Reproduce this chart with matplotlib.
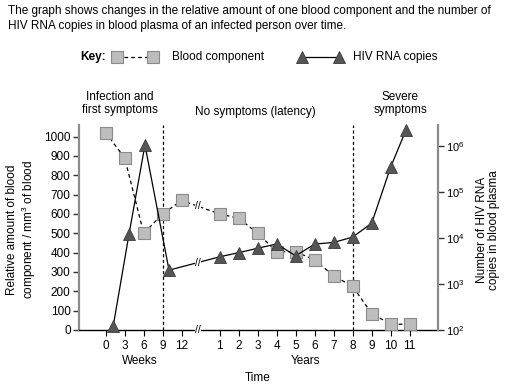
import numpy as np
import matplotlib
matplotlib.use("Agg")
import matplotlib.pyplot as plt

plt.rcParams['font.family'] = ['Liberation Sans', 'DejaVu Sans']
plt.rcParams['mathtext.fontset'] = 'custom'
plt.rcParams['mathtext.rm'] = 'Liberation Sans'
plt.rcParams['mathtext.it'] = 'Liberation Sans'

# ---- data ----
week_ticks = [0, 3, 6, 9, 12]
year_ticks = [1, 2, 3, 4, 5, 6, 7, 8, 9, 10, 11]

blood_weeks_x = [0, 3, 6, 9, 12]
blood_weeks = [1020, 890, 500, 600, 670]
blood_years_x = [1, 2, 3, 4, 5, 6, 7, 8, 9, 10, 11]
blood_years = [600, 578, 500, 405, 405, 362, 280, 225, 85, 30, 30]

hiv_weeks_x = [1.2, 3.7, 6.2, 10]
hiv_weeks = [125, 12500, 1050000, 2000]
hiv_years_x = [1, 2, 3, 4, 5, 6, 7, 8, 9, 10, 10.8]
hiv_years = [3900, 4800, 6000, 7400, 4100, 7400, 8000, 10500, 21000, 350000, 2200000]

phase_week = 9
phase_year = 8


def wpos(w):
    return np.asarray(w, dtype=float) / 3.0


def ypos(y):
    return np.asarray(y, dtype=float) + 5.0


BREAK = 4.86
FS = 8.5

W, H = 512, 391
fig = plt.figure(figsize=(W / 100, H / 100), dpi=100)
ax = fig.add_axes([79 / W, 1 - 330 / H, (438 - 79) / W, (330 - 125) / H])
ax2 = ax.twinx()

ax.set_xlim(-1.405, 17.49)
ax.set_ylim(0, 1060)
ax2.set_ylim(1e2, 10 ** 6.457)
ax2.set_yscale('log')

# blood component
bx = np.concatenate([wpos(blood_weeks_x), ypos(blood_years_x)])
by = np.concatenate([blood_weeks, blood_years])
ax.plot(bx, by, color='black', lw=0.9, ls=(0, (3, 2.5)), zorder=2)
ax.plot(bx, by, ls='none', marker='s', ms=8.5, mfc='#bdbdbd', mec='#8a8a8a',
        mew=0.8, zorder=4, clip_on=False)

# HIV RNA
hx = np.concatenate([wpos(hiv_weeks_x), ypos(hiv_years_x)])
hy = np.concatenate([hiv_weeks, hiv_years])
ax2.plot(hx, hy, color='black', lw=0.9, zorder=2)
ax2.plot(hx, hy, ls='none', marker='^', ms=9, mfc='#555555', mec='#3a3a3a',
         mew=0.6, zorder=4, clip_on=False)

# break marks on lines and axis
yb = np.interp(BREAK, bx, by)
ax.text(BREAK, yb, '//', ha='center', va='center', fontsize=7.5, zorder=3,
        bbox=dict(fc='white', ec='none', pad=0.2))
hb = 10 ** np.interp(BREAK, hx, np.log10(hy))
ax2.text(BREAK, hb, '//', ha='center', va='center', fontsize=7.5, zorder=3,
         bbox=dict(fc='white', ec='none', pad=0.2))
ax.text(BREAK, 0, '//', ha='center', va='center', fontsize=7.5, zorder=5,
        clip_on=False, bbox=dict(fc='white', ec='none', pad=0.2))

# phase lines
for p in [wpos(phase_week), ypos(phase_year)]:
    ax.axvline(p, color='black', lw=0.9, ls=(0, (2.5, 2)), zorder=1)

# axes styling
for s in ['top']:
    ax.spines[s].set_visible(False)
    ax2.spines[s].set_visible(False)
ax2.spines['left'].set_visible(False)
ax2.spines['bottom'].set_visible(False)
ax.spines['right'].set_visible(False)
ax.spines['left'].set_color('#8c8c8c')
ax.spines['left'].set_linewidth(1.6)
ax2.spines['right'].set_color('#8c8c8c')
ax2.spines['right'].set_linewidth(1.6)
ax.spines['bottom'].set_color('black')
ax.spines['bottom'].set_linewidth(1.0)

ax.set_yticks(range(0, 1001, 100))
ax.tick_params(axis='y', length=4, width=1, labelsize=FS, pad=2, color='#333333')
ax.set_xticks(list(wpos(week_ticks)) + list(ypos(year_ticks)))
ax.set_xticklabels([str(v) for v in week_ticks] + [str(v) for v in year_ticks])
ax.tick_params(axis='x', length=4, width=0.8, labelsize=FS, pad=3)

ax2.set_yticks([1e2, 1e3, 1e4, 1e5, 1e6])
ax2.set_yticklabels([r'$10^{2}$', r'$10^{3}$', r'$10^{4}$', r'$10^{5}$', r'$10^{6}$'])
ax2.yaxis.set_minor_locator(matplotlib.ticker.NullLocator())
ax2.tick_params(axis='y', length=4, width=1, labelsize=8, pad=2, color='#333333')


def ft(x, y, s, **kw):
    fig.text(x / W, 1 - y / H, s, **kw)


ft(8, 11, 'The graph shows changes in the relative amount of one blood component and the number of',
   fontsize=FS, va='center', ha='left')
ft(8, 26, 'HIV RNA copies in blood plasma of an infected person over time.',
   fontsize=FS, va='center', ha='left')

# key
ft(80, 57, 'Key:', fontsize=FS, fontweight='bold', va='center', ha='left')
kx0, kx1, ky = 117 / W, 153 / W, 1 - 57 / H
fig.add_artist(matplotlib.lines.Line2D([kx0, kx1], [ky, ky], color='black', lw=0.9,
                                       ls=(0, (3, 2.5)), transform=fig.transFigure))
fig.add_artist(matplotlib.lines.Line2D([kx0, kx1], [ky, ky], ls='none', marker='s', ms=8.5,
                                       mfc='#bdbdbd', mec='#8a8a8a', mew=0.8,
                                       transform=fig.transFigure))
ft(172, 57, 'Blood component', fontsize=FS, va='center', ha='left')
tx0, tx1 = 302 / W, 339 / W
fig.add_artist(matplotlib.lines.Line2D([tx0, tx1], [ky, ky], color='black', lw=0.9,
                                       marker='^', ms=9, mfc='#555555', mec='#3a3a3a',
                                       mew=0.6, transform=fig.transFigure))
ft(353, 57, 'HIV RNA copies', fontsize=FS, va='center', ha='left')

# phase labels
ft(120, 97, 'Infection and', fontsize=FS, ha='center', va='center')
ft(120, 110, 'first symptoms', fontsize=FS, ha='center', va='center')
ft(255, 112, 'No symptoms (latency)', fontsize=FS, ha='center', va='center')
ft(400, 97, 'Severe', fontsize=FS, ha='center', va='center')
ft(400, 110, 'symptoms', fontsize=FS, ha='center', va='center')

# axis titles
ft(140, 361, 'Weeks', fontsize=FS, ha='center', va='center')
ft(305, 361, 'Years', fontsize=FS, ha='center', va='center')
ft(258, 378, 'Time', fontsize=FS, ha='center', va='center')
ft(22, 230, 'Relative amount of blood\ncomponent / mm$^{3}$ of blood', fontsize=FS,
   ha='center', va='center', rotation=90, linespacing=1.1)
ft(488, 230, 'Number of HIV RNA\ncopies in blood plasma', fontsize=FS,
   ha='center', va='center', rotation=90, linespacing=1.1)

fig.savefig('out.png', dpi=100)
